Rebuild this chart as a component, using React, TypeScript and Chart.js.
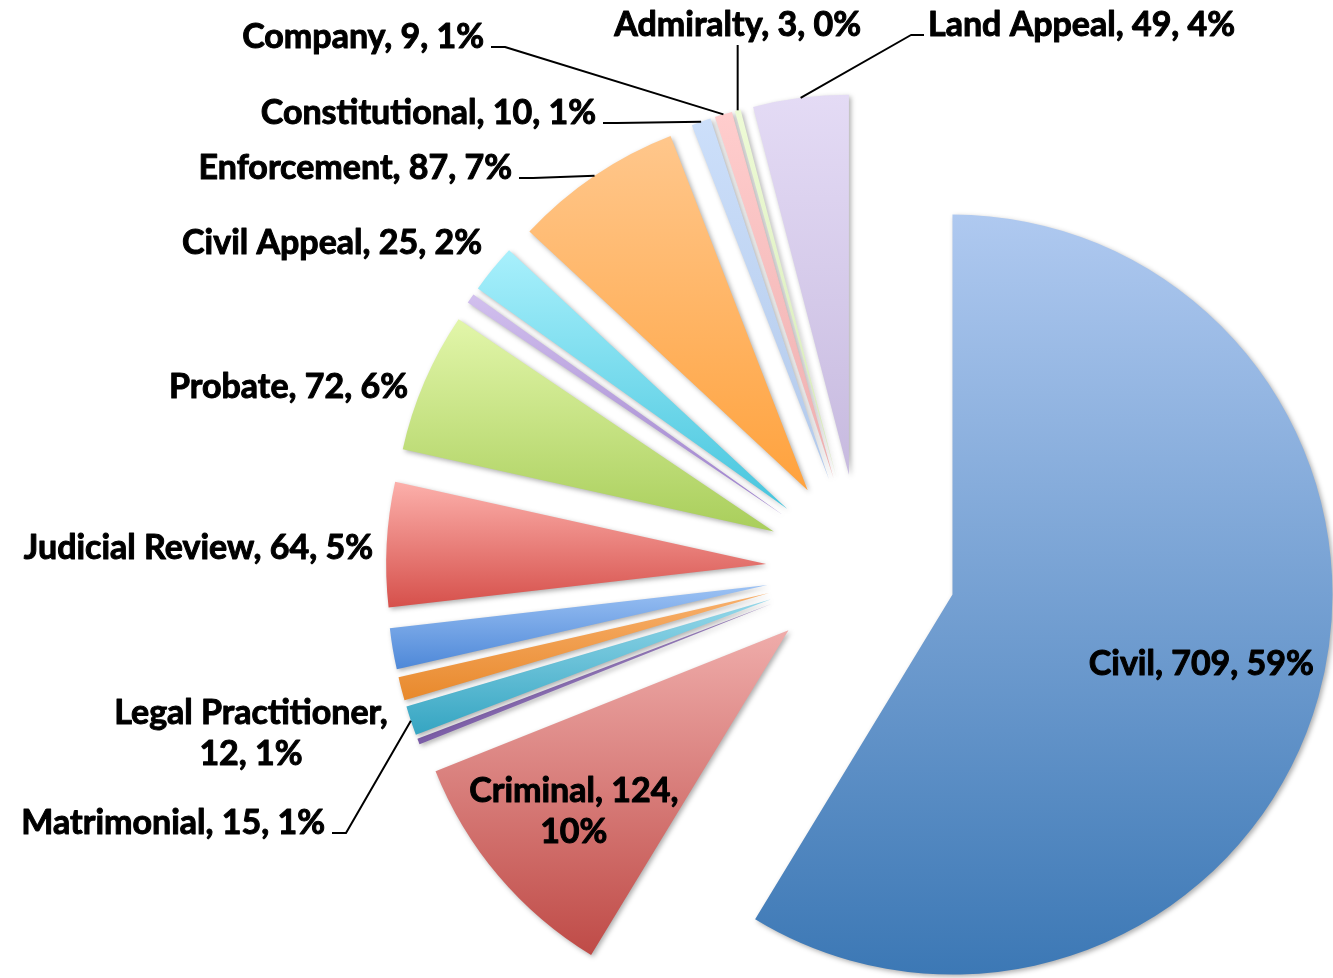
import React, { useEffect, useRef } from "react";
import { Chart, registerables } from "chart.js";

Chart.register(...registerables);

// ---------- DATA ----------
const categories = [
  "Civil",
  "Criminal",
  "Other A",
  "Other B",
  "Matrimonial",
  "Legal Practitioner",
  "Other C",
  "Judicial Review",
  "Probate",
  "Other D",
  "Civil Appeal",
  "Enforcement",
  "Constitutional",
  "Company",
  "Admiralty",
  "Land Appeal",
];
const values = [709, 124, 0, 3, 15, 12, 21, 64, 72, 5, 25, 87, 10, 9, 3, 49];
const showLabel = [true, true, false, false, true, true, false, true, true, false, true, true, true, true, true, true];

// gradient colours (top -> bottom) for each slice
const topColors = [
  "#AFC9F0", "#EFACAA", "#D7E4BD", "#9E85C2", "#95D8EA", "#F8B06C", "#9CC2F4", "#FCB0AB",
  "#E2F6AA", "#D2C0EE", "#A8F0FC", "#FFC78C", "#CCDFFA", "#FFCDCD", "#EEFBD6", "#E4DBF5",
];
const bottomColors = [
  "#3C78B5", "#BF4B47", "#9BBB59", "#7A5CA6", "#35A5C2", "#E8892C", "#4E88D8", "#D6504B",
  "#A9CE5B", "#9C80CB", "#46C5DD", "#FFA23D", "#B2C9EB", "#EEAFAF", "#D5EAB6", "#C7BADF",
];

// ---------- LAYOUT ----------
const RADIUS = 380;
const EXPLODE = 95;
const FONT_SIZE = 34;
const FONT = `bold ${FONT_SIZE}px Lato`;
const LINE_H = 41;

type Placement =
  | null
  | { kind: "inside"; frac: number; brk?: number }
  | {
      kind: "outside";
      x?: number;
      y: number;
      align: CanvasTextAlign;
      leader: "none" | "elbow" | "below";
      brk?: number;
    };

const placements: Placement[] = [
  { kind: "inside", frac: 0.68 },
  { kind: "inside", frac: 0.74, brk: 2 },
  null,
  null,
  { kind: "outside", x: 325, y: 823, align: "right", leader: "elbow" },
  { kind: "outside", x: 251, y: 713, align: "center", leader: "none", brk: 1 },
  null,
  { kind: "outside", x: 373, y: 548, align: "right", leader: "none" },
  { kind: "outside", x: 408, y: 387, align: "right", leader: "none" },
  null,
  { kind: "outside", x: 482, y: 243, align: "right", leader: "none" },
  { kind: "outside", x: 512, y: 168, align: "right", leader: "elbow" },
  { kind: "outside", x: 596, y: 113, align: "right", leader: "elbow" },
  { kind: "outside", x: 484, y: 37, align: "right", leader: "elbow" },
  { kind: "outside", y: 25, align: "center", leader: "below" },
  { kind: "outside", x: 928, y: 25, align: "left", leader: "elbow" },
];

const total = values.reduce((a, b) => a + b, 0);

function sliceAngles(i: number) {
  let cum = 0;
  for (let k = 0; k < i; k++) cum += values[k];
  const start = -Math.PI / 2 + (cum / total) * Math.PI * 2;
  const end = start + (values[i] / total) * Math.PI * 2;
  return { start, end };
}

function makeGradient(c: any) {
  const i = c.dataIndex;
  const chart = c.chart;
  const area = chart.chartArea;
  if (!area) return bottomColors[i];
  const cy = (area.top + area.bottom) / 2;
  const { start, end } = sliceAngles(i);
  const mid = (start + end) / 2;
  const ay = cy + Math.sin(mid) * EXPLODE;
  let minY = ay;
  let maxY = ay;
  const consider = (a: number) => {
    const py = ay + Math.sin(a) * RADIUS;
    minY = Math.min(minY, py);
    maxY = Math.max(maxY, py);
  };
  consider(start);
  consider(end);
  for (let k = -4; k <= 8; k++) {
    const a = (k * Math.PI) / 2;
    if (a > start && a < end) consider(a);
  }
  if (maxY - minY < 1) maxY = minY + 1;
  const g = chart.ctx.createLinearGradient(0, minY, 0, maxY);
  g.addColorStop(0, topColors[i]);
  g.addColorStop(1, bottomColors[i]);
  return g;
}

// moves every slice outward along its bisector (exploded pie)
const explodePlugin = {
  id: "explodeSlices",
  afterDatasetUpdate(chart: any, args: any) {
    const meta = args.meta;
    meta.data.forEach((arc: any) => {
      const mid = (arc.startAngle + arc.endAngle) / 2;
      arc.x += Math.cos(mid) * EXPLODE;
      arc.y += Math.sin(mid) * EXPLODE;
    });
  },
};

const shadowPlugin = {
  id: "sliceShadow",
  beforeDatasetsDraw(chart: any) {
    const ctx = chart.ctx;
    ctx.save();
    ctx.shadowColor = "rgba(0,0,0,0.32)";
    ctx.shadowBlur = 5;
    ctx.shadowOffsetX = 2;
    ctx.shadowOffsetY = 2;
  },
  afterDatasetsDraw(chart: any) {
    chart.ctx.restore();
  },
};

const labelPlugin = {
  id: "sliceLabels",
  afterDraw(chart: any) {
    const ctx = chart.ctx;
    const meta = chart.getDatasetMeta(0);
    ctx.save();
    ctx.font = FONT;
    ctx.fillStyle = "#000";
    ctx.strokeStyle = "#000";
    ctx.textBaseline = "middle";
    meta.data.forEach((arc: any, i: number) => {
      const p = placements[i];
      if (!p || !showLabel[i]) return;
      const { x: ax, y: ay, startAngle, endAngle, outerRadius } = arc.getProps(
        ["x", "y", "startAngle", "endAngle", "outerRadius"],
        true
      );
      const mid = (startAngle + endAngle) / 2;
      const tx = ax + Math.cos(mid) * outerRadius;
      const ty = ay + Math.sin(mid) * outerRadius;

      const pct = Math.round((values[i] / total) * 100);
      const parts = [categories[i], String(values[i]), pct + "%"];
      const lines = p.brk
        ? [parts.slice(0, p.brk).join(", ") + ",", parts.slice(p.brk).join(", ")]
        : [parts.join(", ")];

      const drawText = (s: string, x: number, y: number) => {
        ctx.lineWidth = 1;
        ctx.lineJoin = "round";
        ctx.strokeText(s, x, y);
        ctx.fillText(s, x, y);
      };

      if (p.kind === "inside") {
        const px = ax + Math.cos(mid) * outerRadius * p.frac;
        const py = ay + Math.sin(mid) * outerRadius * p.frac;
        ctx.textAlign = "center";
        lines.forEach((ln, k) => {
          drawText(ln, px, py + (k - (lines.length - 1) / 2) * LINE_H);
        });
        return;
      }

      const lx = p.x !== undefined ? p.x : tx;
      ctx.textAlign = p.align;
      lines.forEach((ln, k) => drawText(ln, lx, p.y + k * LINE_H));

      ctx.lineWidth = 2;
      if (p.leader === "elbow") {
        const ly = p.y + 10;
        let sx: number;
        let ex: number;
        if (p.align === "left") {
          sx = lx - 4;
          ex = sx - 13;
        } else {
          sx = lx + 7;
          ex = sx + 14;
        }
        ctx.beginPath();
        ctx.moveTo(sx, ly);
        ctx.lineTo(ex, ly);
        ctx.lineTo(tx, ty);
        ctx.stroke();
      } else if (p.leader === "below") {
        ctx.beginPath();
        ctx.moveTo(tx, p.y + 20);
        ctx.lineTo(tx, ty);
        ctx.stroke();
      }
    });
    ctx.restore();
  },
};

export default function App() {
  const ref = useRef<HTMLCanvasElement | null>(null);

  useEffect(() => {
    if (!ref.current) return;
    const chart = new Chart(ref.current, {
      type: "pie",
      data: {
        labels: categories,
        datasets: [
          {
            data: values,
            backgroundColor: makeGradient as any,
            borderWidth: 0,
          },
        ],
      },
      options: {
        responsive: false,
        animation: false,
        devicePixelRatio: 1,
        radius: RADIUS,
        layout: { padding: { left: 389, top: 160, right: 0, bottom: 0 } },
        plugins: {
          legend: { display: false },
          tooltip: { enabled: false },
        },
      } as any,
      plugins: [explodePlugin, shadowPlugin, labelPlugin],
    });
    return () => chart.destroy();
  }, []);

  return (
    <div style={{ position: "absolute", left: 0, top: 0, width: 1333, height: 978, background: "#fff" }}>
      <canvas ref={ref} width={1333} height={978} style={{ width: 1333, height: 978, display: "block" }} />
    </div>
  );
}
